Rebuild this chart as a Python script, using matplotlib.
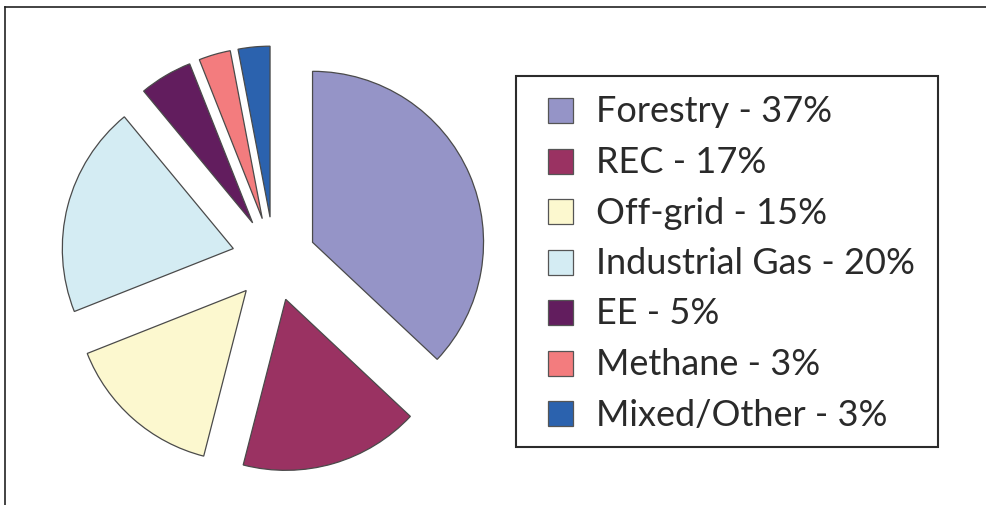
import matplotlib
matplotlib.use("Agg")
import matplotlib.pyplot as plt
from matplotlib.patches import Rectangle
from matplotlib.lines import Line2D

# data
labels = ["Forestry", "REC", "Off-grid", "Industrial Gas", "EE", "Methane", "Mixed/Other"]
shares = [37, 17, 15, 20, 5, 3, 3]
colors = ["#9594C7", "#9A3262", "#FCF8CF", "#D4ECF3", "#621D5E", "#F37C7E", "#2B62AE"]

W, H = 986, 505
fig = plt.figure(figsize=(W / 100, H / 100), dpi=100)
ax = fig.add_axes([0, 0, 1, 1])

# pie, in pixel coordinates (y measured upward); explode is absolute here
cx, cy, r = 274, H - 259, 171
explode = [42] * len(shares)
ax.pie(shares, colors=colors, explode=explode, startangle=90, counterclock=False,
       center=(cx, cy), radius=r,
       wedgeprops=dict(edgecolor="#4a4a4a", linewidth=0.9))
ax.set_xlim(0, W)
ax.set_ylim(0, H)
ax.set_aspect("equal")
ax.axis("off")

# legend box drawn by hand
ax.add_patch(Rectangle((516, H - 447), 938 - 516, 447 - 76, fill=False,
                       edgecolor="#2b2b2b", linewidth=1.5))
y0 = 110.5
step = 50.5
for i, (lab, val, col) in enumerate(zip(labels, shares, colors)):
    yc = y0 + i * step
    ax.add_patch(Rectangle((548, H - yc - 12.5), 25, 25, facecolor=col,
                           edgecolor="#555555", linewidth=0.9))
    ax.text(596, H - yc - 12, f"{lab} - {val}%", fontsize=26, family="Lato",
            color="#2a2a2a", ha="left", va="baseline")

# frame lines (top and left)
fig.add_artist(Line2D([5 / W, 1], [1 - 7 / H, 1 - 7 / H], color="#222222", linewidth=1.2))
fig.add_artist(Line2D([5 / W, 5 / W], [0, 1 - 7 / H], color="#222222", linewidth=1.2))

fig.savefig("out.png", dpi=100)
